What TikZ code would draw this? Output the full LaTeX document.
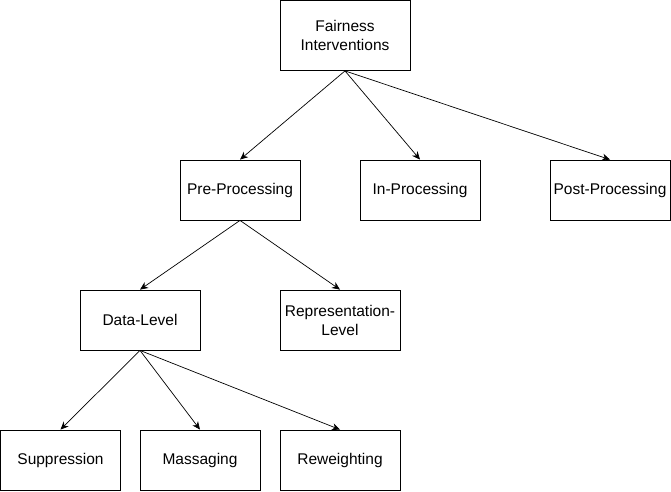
\documentclass[tikz,border=0pt]{standalone}
\usepackage{fontspec}
\setmainfont{Liberation Sans}
\usetikzlibrary{arrows.meta, positioning}

\begin{document}
\begin{tikzpicture}[
      x=1pt,
      y=-1pt,
      font=\fontsize{15.5}{19}\selectfont,
      box/.style={
        draw=black,
        line width=0.8pt,
        minimum width=120pt,
        minimum height=60pt,
        inner sep=0pt,
        align=center
      },
      link/.style={
        -{Stealth[length=8pt, width=7pt, inset=2.5pt]},
        line width=0.7pt,
        draw=black
      }
  ]

    \useasboundingbox (0,0) rectangle (671,491);

    % Wurzel
    \node[box, minimum width=130pt, minimum height=70pt] (fairness) at (345,35.5) {Fairness\\Interventions};

    % Zweite Ebene
    \node[box] (pre) at (240,190) {Pre-Processing};
    \node[box] (in) at (420,190) {In-Processing};
    \node[box] (post) at (610,190) {Post-Processing};

    % Dritte Ebene
    \node[box] (datalevel) at (140,320) {Data-Level};
    \node[box] (replevel) at (340,320) {Representation-\\Level};

    % Blaetter
    \node[box] (suppression) at (60.5,460) {Suppression};
    \node[box] (massaging) at (200,460) {Massaging};
    \node[box] (reweighting) at (340,460) {Reweighting};

    \draw[link] (fairness.south) -- (pre.north);
    \draw[link] (fairness.south) -- (in.north);
    \draw[link] (fairness.south) -- (post.north);

    \draw[link] (pre.south) -- (datalevel.north);
    \draw[link] (pre.south) -- (replevel.north);

    \draw[link] (datalevel.south) -- (suppression.north);
    \draw[link] (datalevel.south) -- (massaging.north);
    \draw[link] (datalevel.south) -- (reweighting.north);

  \end{tikzpicture}
\end{document}
